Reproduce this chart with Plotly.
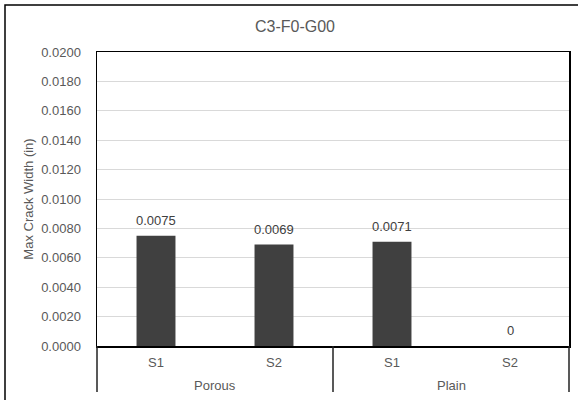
import plotly.graph_objects as go

groups = ["Porous", "Porous", "Plain", "Plain"]
specimens = ["S1", "S2", "S1", "S2"]
values = [0.0075, 0.0069, 0.0071, 0.0]
labels = ["0.0075", "0.0069", "0.0071", "0"]
title = "C3-F0-G00"
ytitle = "Max Crack Width (in)"

W, H = 578, 400
L, R, T, B = 97, 9, 52, 54
pw, ph = W - L - R, H - T - B
FONT = "Liberation Sans, Arial"
GREY = "#595959"

fig = go.Figure(go.Bar(
    x=[groups, specimens], y=values,
    marker=dict(color="#404040", line=dict(width=0)),
    hoverinfo="skip",
))

n = len(values)
ann = []
shapes = []
# data labels
for i, (v, t) in enumerate(zip(values, labels)):
    ann.append(dict(x=(i + 0.5) / n, xref="paper", y=v, yref="y", text=t,
                    showarrow=False, xanchor="center", yanchor="bottom", yshift=6,
                    font=dict(family=FONT, size=13, color="#404040")))
# first-level category labels
for i, s in enumerate(specimens):
    ann.append(dict(x=(i + 0.5) / n, xref="paper", y=-16 / ph, yref="paper", text=s,
                    showarrow=False, xanchor="center", yanchor="middle",
                    font=dict(family=FONT, size=13, color=GREY)))
# group labels and dividers
bounds = [0]
for i in range(1, n):
    if groups[i] != groups[i - 1]:
        bounds.append(i)
bounds.append(n)
for a, b in zip(bounds[:-1], bounds[1:]):
    ann.append(dict(x=(a + b) / 2 / n, xref="paper", y=-39 / ph, yref="paper",
                    text=groups[a], showarrow=False, xanchor="center", yanchor="middle",
                    font=dict(family=FONT, size=13, color=GREY)))
for bnd in bounds:
    shapes.append(dict(type="line", xref="paper", yref="paper",
                       x0=bnd / n, x1=bnd / n, y0=0, y1=-46 / ph,
                       line=dict(color="#222222", width=1.5)))
# outer chart border
shapes.append(dict(type="rect", xref="paper", yref="paper",
                   x0=(5 - L) / pw, x1=(W + 5 - L) / pw,
                   y0=-(H + 5 - T - ph) / ph, y1=1 + (T - 5) / ph,
                   line=dict(color="#000000", width=1.5), layer="below"))

fig.update_layout(
    width=W, height=H,
    margin=dict(l=L, r=R, t=T, b=B, autoexpand=False),
    paper_bgcolor="white", plot_bgcolor="white",
    bargap=0.67,
    showlegend=False,
    hovermode=False,
    font=dict(family=FONT, color=GREY, size=13),
    title=dict(text=title, x=295 / W, xref="container", xanchor="center",
               y=1 - 26 / H, yref="container", yanchor="middle",
               font=dict(size=16, color=GREY)),
    xaxis=dict(type="multicategory", showline=True, linecolor="#000000", linewidth=1.5,
               mirror=True, showdividers=False, showticklabels=False, ticks="",
               showgrid=False),
    yaxis=dict(range=[0, 0.02], dtick=0.002, tickformat=".4f",
               showgrid=True, gridcolor="#d9d9d9", gridwidth=1,
               showline=True, linecolor="#000000", linewidth=1.5, mirror=True,
               zeroline=False, ticks="", ticklabelstandoff=12,
               tickfont=dict(size=13, color=GREY),
               title=dict(text=ytitle, font=dict(size=13, color=GREY), standoff=4)),
    annotations=ann,
    shapes=shapes,
)

fig.write_html("out.html", config={"displayModeBar": False, "staticPlot": True},
               post_script="document.body.style.margin='0';document.body.style.padding='0';")
